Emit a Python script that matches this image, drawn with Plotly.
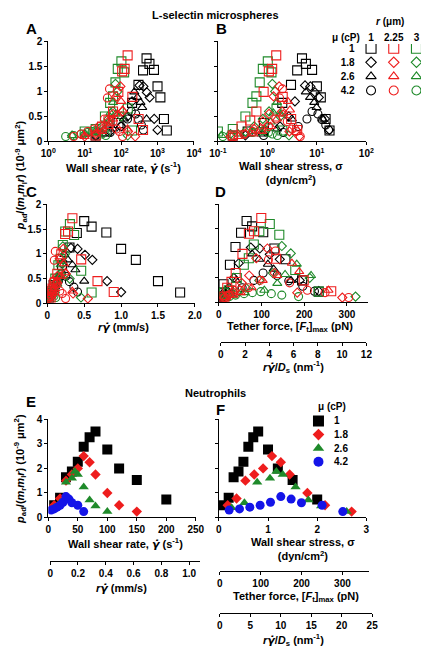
import plotly.graph_objects as go

W, H = 430, 656
FONT = "Liberation Sans"

# ---------------- L-selectin microspheres (panels A-D) ----------------
# naming: k = black (r = 1 um), r = red (r = 2.25 um), g = green (r = 3 um)
# suffix 1/2/3/4 = viscosity 1 / 1.8 / 2.6 / 4.2 cP
# gamma = wall shear rate (1/s), sigma = wall shear stress (dyn/cm2),
# rg = r*gamma (mm/s), F = tether force (pN), p = pad/(mr ml r)

p_k1 = [0.12, 0.2, 0.37, 0.77, 1.13, 1.42, 1.66, 1.55, 1.43, 1.1, 0.88, 0.45, 0.22]
gamma_k1 = [20, 40, 85, 200, 300, 400, 500, 600, 800, 1000, 1200, 1500, 1800]
sigma_k1 = [0.2, 0.4, 0.85, 2, 3, 4, 5, 6, 8, 10, 12, 15, 18]
rg_k1 = [0.02, 0.04, 0.085, 0.2, 0.3, 0.4, 0.5, 0.6, 0.8, 1.0, 1.2, 1.5, 1.8]
F_k1 = [2.6, 5.2, 11, 26, 39, 52, 65, 78, 104, 130, 156, 195, 234]

p_k2 = [0.12, 0.2, 0.3, 0.5, 0.8, 1.12, 1.10, 0.98, 0.88, 0.45, 0.23]
gamma_k2 = [20, 50, 100, 150, 200, 320, 410, 510, 610, 810, 1000]
sigma_k2 = [0.36, 0.9, 1.8, 2.7, 3.6, 5.76, 7.38, 9.18, 10.98, 14.58, 18]
rg_k2 = [0.02, 0.05, 0.1, 0.15, 0.2, 0.32, 0.41, 0.51, 0.61, 0.81, 1.0]
F_k2 = [4.7, 11.7, 23.4, 35.1, 46.8, 74.9, 95.9, 119.3, 142.7, 189.5, 234]

p_k3 = [0.15, 0.25, 0.45, 0.99, 0.88, 0.78, 0.68, 0.45]
gamma_k3 = [30, 60, 120, 230, 280, 340, 380, 500]
sigma_k3 = [0.78, 1.56, 3.12, 5.98, 7.28, 8.84, 9.88, 13.0]
rg_k3 = [0.03, 0.06, 0.12, 0.23, 0.28, 0.34, 0.38, 0.5]
F_k3 = [10.1, 20.3, 40.6, 77.7, 94.6, 114.9, 128.4, 169.0]

p_k4 = [0.12, 0.18, 0.3, 0.45, 0.6, 0.55, 0.44, 0.33, 0.23]
gamma_k4 = [20, 50, 100, 150, 190, 250, 300, 360, 410]
sigma_k4 = [0.84, 2.1, 4.2, 6.3, 7.98, 10.5, 12.6, 15.12, 17.22]
rg_k4 = [0.02, 0.05, 0.1, 0.15, 0.19, 0.25, 0.3, 0.36, 0.41]
F_k4 = [10.9, 27.3, 54.6, 81.9, 103.7, 136.5, 163.8, 196.6, 223.9]

p_r1 = [0.12, 0.3, 0.42, 0.6, 0.99, 1.4, 1.45, 1.72, 0.89, 0.45, 0.23]
gamma_r1 = [20, 30, 45, 60, 84, 107, 125, 151, 204, 302, 400]
sigma_r1 = [0.2, 0.3, 0.45, 0.6, 0.84, 1.07, 1.25, 1.51, 2.04, 3.02, 4.0]
rg_r1 = [0.045, 0.0675, 0.101, 0.135, 0.189, 0.241, 0.281, 0.34, 0.459, 0.68, 0.9]
F_r1 = [13.2, 19.7, 29.6, 39.5, 55.3, 70.4, 82.3, 99.4, 134.2, 198.7, 263.2]

p_r2 = [0.1, 0.15, 0.25, 0.4, 0.55, 0.9, 1.1, 0.6, 0.2, 0.1]
gamma_r2 = [10, 20, 30, 45, 60, 74, 96, 110, 155, 244]
sigma_r2 = [0.18, 0.36, 0.54, 0.81, 1.08, 1.332, 1.728, 1.98, 2.79, 4.392]
rg_r2 = [0.0225, 0.045, 0.0675, 0.101, 0.135, 0.167, 0.216, 0.248, 0.349, 0.549]
F_r2 = [11.9, 23.7, 35.6, 53.3, 71.1, 87.7, 113.8, 130.4, 183.7, 289.1]

p_r3 = [0.1, 0.15, 0.2, 0.3, 0.45, 0.55, 0.8, 0.63, 0.25]
gamma_r3 = [10, 20, 30, 45, 60, 80, 100, 110, 150]
sigma_r3 = [0.26, 0.52, 0.78, 1.17, 1.56, 2.08, 2.6, 2.86, 3.9]
rg_r3 = [0.0225, 0.045, 0.0675, 0.101, 0.135, 0.18, 0.225, 0.248, 0.338]
F_r3 = [17.1, 34.2, 51.3, 77.0, 102.7, 136.9, 171.1, 188.2, 256.7]

p_r4 = [0.1, 0.15, 0.2, 0.25, 0.3, 0.45, 0.87, 1.05, 0.4, 0.25, 0.2, 0.1]
gamma_r4 = [5, 8, 12, 18, 25, 35, 42, 48, 60, 75, 90, 110]
sigma_r4 = [0.21, 0.336, 0.504, 0.756, 1.05, 1.47, 1.764, 2.016, 2.52, 3.15, 3.78, 4.62]
rg_r4 = [0.0113, 0.018, 0.027, 0.0405, 0.0563, 0.0788, 0.0945, 0.108, 0.135, 0.169, 0.2025, 0.2475]
F_r4 = [13.8, 22.1, 33.2, 49.8, 69.1, 96.7, 116.1, 132.7, 165.8, 207.3, 248.8, 304.0]

p_g1 = [0.2, 0.25, 0.5, 0.77, 0.9, 1.18, 1.45, 1.6, 1.38, 0.66, 0.22]
gamma_g1 = [10, 20, 36, 50, 60, 70, 81, 102, 121, 153, 200]
sigma_g1 = [0.1, 0.2, 0.36, 0.5, 0.6, 0.7, 0.81, 1.02, 1.21, 1.53, 2.0]
rg_g1 = [0.03, 0.06, 0.108, 0.15, 0.18, 0.21, 0.243, 0.306, 0.363, 0.459, 0.6]
F_g1 = [11.7, 23.4, 42.1, 58.5, 70.2, 81.9, 94.8, 119.3, 141.6, 179.0, 234.0]

p_g2 = [0.12, 0.15, 0.2, 0.3, 0.45, 0.6, 1.15, 1.0, 0.5, 0.12]
gamma_g2 = [4.5, 10, 20, 30, 45, 60, 70, 80, 101, 152]
sigma_g2 = [0.081, 0.18, 0.36, 0.54, 0.81, 1.08, 1.26, 1.44, 1.818, 2.736]
rg_g2 = [0.0135, 0.03, 0.06, 0.09, 0.135, 0.18, 0.21, 0.24, 0.303, 0.456]
F_g2 = [9.5, 21.1, 42.1, 63.2, 94.8, 126.4, 147.4, 168.5, 212.7, 320.1]

p_g3 = [0.12, 0.15, 0.2, 0.25, 0.39, 0.57, 0.78, 0.55]
gamma_g3 = [4.5, 10, 20, 35, 45, 51, 60, 71]
sigma_g3 = [0.117, 0.26, 0.52, 0.91, 1.17, 1.326, 1.56, 1.846]
rg_g3 = [0.0135, 0.03, 0.06, 0.105, 0.135, 0.153, 0.18, 0.213]
F_g3 = [13.7, 30.4, 60.8, 106.5, 136.9, 155.1, 182.5, 216.0]

p_g4 = [0.1, 0.12, 0.15, 0.18, 0.2, 0.22, 0.18, 0.15, 0.12]
gamma_g4 = [3, 5, 8, 12, 16, 20, 25, 30, 38]
sigma_g4 = [0.126, 0.21, 0.336, 0.504, 0.672, 0.84, 1.05, 1.26, 1.596]
rg_g4 = [0.009, 0.015, 0.024, 0.036, 0.048, 0.06, 0.075, 0.09, 0.114]
F_g4 = [14.7, 24.6, 39.3, 59.0, 78.6, 98.3, 122.9, 147.4, 186.7]

# ---------------- Neutrophils (panels E-F) ----------------
np_1 = [0.5, 0.8, 1.64, 1.87, 2.27, 2.88, 3.27, 3.5, 2.77, 2.0, 1.53, 0.73]
ngamma_1 = [10, 20, 30, 40, 50, 60, 70, 80, 100, 120, 150, 200]
nsigma_1 = [0.1, 0.2, 0.3, 0.4, 0.5, 0.6, 0.7, 0.8, 1.0, 1.2, 1.5, 2.0]

np_18 = [0.5, 0.77, 1.5, 1.75, 2.0, 2.5, 2.25, 1.75, 1.0, 0.5, 0.24]
ngamma_18 = [10, 20, 30, 40, 50, 60, 70, 80, 100, 120, 150]
nsigma_18 = [0.18, 0.36, 0.54, 0.72, 0.9, 1.08, 1.26, 1.44, 1.8, 2.16, 2.7]

np_26 = [0.4, 0.6, 1.44, 1.6, 1.87, 1.75, 1.24, 0.71, 0.47, 0.24]
ngamma_26 = [10, 20, 30, 40, 45, 50, 60, 70, 80, 100]
nsigma_26 = [0.26, 0.52, 0.78, 1.04, 1.17, 1.3, 1.56, 1.82, 2.08, 2.6]

np_42 = [0.3, 0.35, 0.42, 0.5, 0.62, 0.85, 0.75, 0.6, 0.5, 0.24]
ngamma_42 = [5, 10, 15, 20, 25, 30, 35, 40, 50, 60]
nsigma_42 = [0.21, 0.42, 0.63, 0.84, 1.05, 1.26, 1.47, 1.68, 2.1, 2.52]

# legend categories and tick labels
r_labels = ["1", "2.25", "3"]
mu_labels = ["1", "1.8", "2.6", "4.2"]
neut_col = ["mu"]
log_a_vals = [1, 10, 100, 1000, 10000]
log_a_text = ["10<sup>0</sup>", "10<sup>1</sup>", "10<sup>2</sup>", "10<sup>3</sup>", "10<sup>4</sup>"]
log_b_vals = [0.1, 1, 10, 100]
log_b_text = ["10<sup>-1</sup>", "10<sup>0</sup>", "10<sup>1</sup>", "10<sup>2</sup>"]

# ---------------- styling ----------------
BLACK, RED, GREEN, BLUE = "#000000", "#ee1d1d", "#1f8a2a", "#1414e8"
col_r = {"1": BLACK, "2.25": RED, "3": GREEN}
sym_open = {"1": "square-open", "1.8": "diamond-open", "2.6": "triangle-up-open", "4.2": "circle-open"}
size_open = {"1": 9, "1.8": 7, "2.6": 8, "4.2": 8}

series = [
    ("1", "1", gamma_k1, sigma_k1, rg_k1, F_k1, p_k1),
    ("1.8", "1", gamma_k2, sigma_k2, rg_k2, F_k2, p_k2),
    ("2.6", "1", gamma_k3, sigma_k3, rg_k3, F_k3, p_k3),
    ("4.2", "1", gamma_k4, sigma_k4, rg_k4, F_k4, p_k4),
    ("1", "3", gamma_g1, sigma_g1, rg_g1, F_g1, p_g1),
    ("1.8", "3", gamma_g2, sigma_g2, rg_g2, F_g2, p_g2),
    ("2.6", "3", gamma_g3, sigma_g3, rg_g3, F_g3, p_g3),
    ("4.2", "3", gamma_g4, sigma_g4, rg_g4, F_g4, p_g4),
    ("1", "2.25", gamma_r1, sigma_r1, rg_r1, F_r1, p_r1),
    ("1.8", "2.25", gamma_r2, sigma_r2, rg_r2, F_r2, p_r2),
    ("2.6", "2.25", gamma_r3, sigma_r3, rg_r3, F_r3, p_r3),
    ("4.2", "2.25", gamma_r4, sigma_r4, rg_r4, F_r4, p_r4),
]

neut = [
    ("1", ngamma_1, nsigma_1, np_1, "square", BLACK, 10),
    ("1.8", ngamma_18, nsigma_18, np_18, "diamond", RED, 8),
    ("2.6", ngamma_26, nsigma_26, np_26, "triangle-up", GREEN, 9),
    ("4.2", ngamma_42, nsigma_42, np_42, "circle", BLUE, 9),
]

fig = go.Figure()

for mu, r, g, s, rg, F, p in series:
    mk = dict(symbol=sym_open[mu], size=size_open[mu], color=col_r[r], line=dict(width=1.1, color=col_r[r]))
    for xv, xa, ya in ((g, "x", "y"), (s, "x2", "y2"), (rg, "x3", "y3"), (F, "x4", "y4")):
        fig.add_trace(go.Scatter(x=xv, y=p, xaxis=xa, yaxis=ya, mode="markers", marker=mk,
                                 showlegend=False, hoverinfo="skip"))
    fig.add_trace(go.Scatter(x=[r], y=[mu], xaxis="x11", yaxis="y11", mode="markers",
                             marker=dict(symbol=sym_open[mu], size=size_open[mu] + 1, color=col_r[r],
                                         line=dict(width=1.1, color=col_r[r])),
                             showlegend=False, hoverinfo="skip"))

for mu, g, s, p, sym, col, sz in neut:
    mk = dict(symbol=sym, size=sz, color=col, line=dict(width=0))
    fig.add_trace(go.Scatter(x=g, y=p, xaxis="x6", yaxis="y6", mode="markers", marker=mk,
                             showlegend=False, hoverinfo="skip"))
    fig.add_trace(go.Scatter(x=s, y=p, xaxis="x8", yaxis="y8", mode="markers", marker=mk,
                             showlegend=False, hoverinfo="skip"))
    fig.add_trace(go.Scatter(x=neut_col, y=[mu], xaxis="x12", yaxis="y12", mode="markers",
                             marker=dict(symbol=sym, size=sz + 1, color=col, line=dict(width=0)),
                             showlegend=False, hoverinfo="skip"))

# empty traces so the extra (secondary) axes are drawn
for n in (5, 7, 9, 10):
    fig.add_trace(go.Scatter(x=[], y=[], xaxis=f"x{n}", yaxis=f"y{n}", showlegend=False))


def xd(a, b):
    return [a / W, b / W]


def yd(top, bottom):
    return [1 - bottom / H, 1 - top / H]


TF = dict(family=FONT, size=10, color="black", weight="bold")


def ax(**kw):
    base = dict(showline=True, linecolor="black", linewidth=1, ticks="outside", ticklen=3,
                tickwidth=1, tickcolor="black", showgrid=False, zeroline=False, tickfont=TF,
                fixedrange=True)
    base.update(kw)
    return base


def hidden_y(anchor, bottom):
    return dict(domain=yd(bottom - 2, bottom), visible=False, anchor=anchor, range=[0, 1], fixedrange=True)


lin2 = dict(tickvals=[0, 0.5, 1, 1.5, 2], ticktext=["0", "0.5", "1", "1.5", "2"])

layout = dict(
    width=W, height=H, margin=dict(l=0, r=0, t=0, b=0),
    paper_bgcolor="white", plot_bgcolor="rgba(0,0,0,0)", showlegend=False,
    font=dict(family=FONT, color="black"),
    # A
    xaxis=ax(type="log", range=[0, 4], domain=xd(41, 193), anchor="y", tickvals=log_a_vals, ticktext=log_a_text),
    yaxis=ax(range=[0, 2], domain=yd(36, 138), anchor="x", **lin2),
    # B
    xaxis2=ax(type="log", range=[-1, 2], domain=xd(218, 373), anchor="y2", tickvals=log_b_vals, ticktext=log_b_text),
    yaxis2=ax(range=[0, 2], domain=yd(36, 138), anchor="x2", tickvals=[0, 0.5, 1, 1.5, 2], showticklabels=False),
    # C
    xaxis3=ax(range=[0, 2], domain=xd(40, 194), anchor="y3", tickvals=[0, 0.5, 1, 1.5, 2],
              ticktext=["0", "0.5", "1.0", "1.5", "2.0"]),
    yaxis3=ax(range=[0, 2], domain=yd(202, 303), anchor="x3", **lin2),
    # D
    xaxis4=ax(range=[0, 350], domain=xd(219, 375), anchor="y4", tickvals=[0, 100, 200, 300]),
    yaxis4=ax(range=[0, 2], domain=yd(202, 302), anchor="x4", tickvals=[0, 0.5, 1, 1.5, 2], showticklabels=False),
    xaxis5=ax(range=[0, 12], domain=xd(221, 373), anchor="y5", tickvals=[0, 2, 4, 6, 8, 10, 12]),
    yaxis5=hidden_y("x5", 342),
    # E
    xaxis6=ax(range=[0, 250], domain=xd(41, 195), anchor="y6", tickvals=[0, 50, 100, 150, 200, 250]),
    yaxis6=ax(range=[0, 4], domain=yd(421, 521), anchor="x6", tickvals=[0, 1, 2, 3, 4]),
    xaxis7=ax(range=[0, 1.0759], domain=xd(43, 199), anchor="y7", tickvals=[0, 0.2, 0.4, 0.6, 0.8, 1.0],
              ticktext=["0", "0.2", "0.4", "0.6", "0.8", "1.0"]),
    yaxis7=hidden_y("x7", 565),
    # F
    xaxis8=ax(range=[0, 3], domain=xd(219, 373), anchor="y8", tickvals=[0, 1, 2, 3]),
    yaxis8=ax(range=[0, 4], domain=yd(421, 521), anchor="x8", tickvals=[0, 1, 2, 3, 4], showticklabels=False),
    xaxis9=ax(range=[0, 365.6], domain=xd(220, 376), anchor="y9", tickvals=[0, 100, 200, 300]),
    yaxis9=hidden_y("x9", 576),
    xaxis10=ax(range=[0, 25], domain=xd(220, 379), anchor="y10", tickvals=[0, 5, 10, 15, 20, 25]),
    yaxis10=hidden_y("x10", 618),
    # legend grid for A-D
    xaxis11=dict(type="category", categoryorder="array", categoryarray=r_labels, range=[-0.5, 2.2],
                 domain=xd(366, 430), anchor="y11", side="top", showline=False, ticks="",
                 showgrid=False, zeroline=False, tickfont=TF, fixedrange=True,
                 ticklabeloverflow="allow"),
    yaxis11=dict(type="category", categoryorder="array", categoryarray=mu_labels, range=[3.5, -0.3],
                 domain=yd(38.7, 93.2), anchor="x11", showline=False, ticks="", showgrid=False,
                 zeroline=False, tickfont=TF, fixedrange=True, ticklabelstandoff=4),
    # legend for E-F
    xaxis12=dict(type="category", range=[-0.5, 0.5], domain=xd(313, 333), anchor="y12",
                 showline=False, ticks="", showgrid=False, zeroline=False, showticklabels=False,
                 fixedrange=True),
    yaxis12=dict(type="category", categoryorder="array", categoryarray=mu_labels, range=[3.5, -0.5],
                 domain=yd(415.8, 471.2), anchor="x12", side="right", showline=False, ticks="",
                 showgrid=False, zeroline=False, tickfont=TF, ticklabelstandoff=5, fixedrange=True),
)
fig.update_layout(**layout)


def note(text, x, y, size=11, angle=0, xanchor="center"):
    fig.add_annotation(text=text, x=x / W, y=1 - y / H, xref="paper", yref="paper", showarrow=False,
                       xanchor=xanchor, yanchor="middle", textangle=angle,
                       font=dict(family=FONT, size=size, color="black", weight="bold"))


GD = "<span style=\"font-family:'DejaVu Sans'\"><i>γ̇</i></span>"
YT = "<i>p</i><sub>ad</sub>/(<i>m</i><sub>r</sub><i>m</i><sub>l</sub><i>r</i>) (10<sup>-9</sup> μm<sup>2</sup>)"

note("L-selectin microspheres", 215, 9, 11)
note("Neutrophils", 215, 394, 11)
for letter, x, y in (("A", 23, 23), ("B", 222, 23), ("C", 23, 189), ("D", 221, 189), ("E", 23, 403), ("F", 221, 411)):
    note(letter, x, y, 15)

note("Wall shear rate, " + GD + " (s<sup>-1</sup>)", 120, 165)
note("Wall shear stress, σ<br>(dyn/cm<sup>2</sup>)", 294, 170)
note("<i>r</i>" + GD + " (mm/s)", 119, 327)
note("Tether force, [<i>F</i><sub>t</sub>]<sub>max</sub> (pN)", 293, 327)
note("<i>r</i>" + GD + "/<i>D</i><sub>s</sub> (nm<sup>-1</sup>)", 297, 368)
note("Wall shear rate, " + GD + " (s<sup>-1</sup>)", 122, 548)
note("<i>r</i>" + GD + " (mm/s)", 117, 593)
note("Wall shear stress, σ<br>(dyn/cm<sup>2</sup>)", 307, 553)
note("Tether force, [<i>F</i><sub>t</sub>]<sub>max</sub> (pN)", 300, 602)
note("<i>r</i>" + GD + "/<i>D</i><sub>s</sub> (nm<sup>-1</sup>)", 297, 646)
note(YT, 12, 172, 11, angle=-90)
note(YT, 12, 471, 11, angle=-90)

note("<i>r</i> (μm)", 398, 16, 10)
note("μ (cP)", 352, 32, 10)
note("μ (cP)", 337, 408, 10)

fig.write_html("out.html", config={"displayModeBar": False},
               post_script="document.body.style.margin='0';document.body.style.overflow='hidden';")
